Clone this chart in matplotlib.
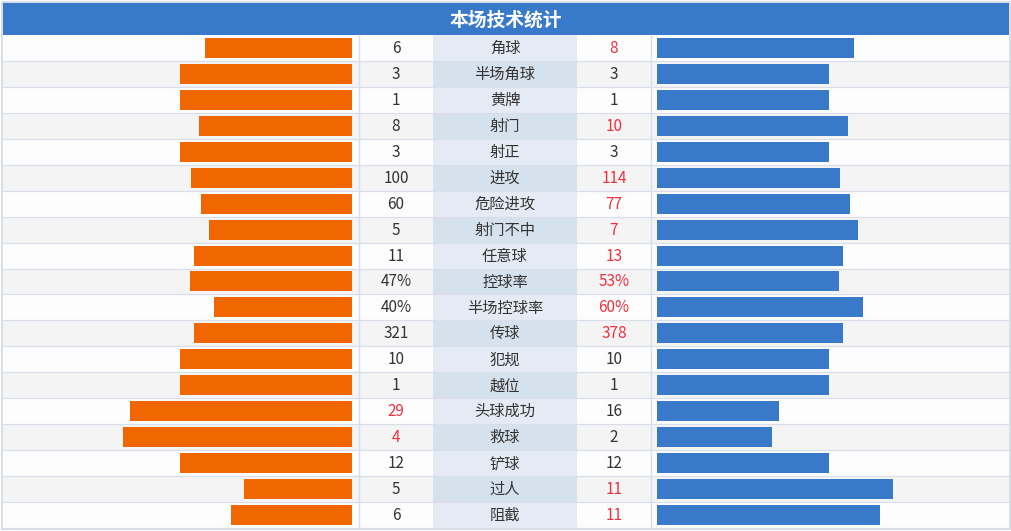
import matplotlib
matplotlib.use("Agg")
import matplotlib.pyplot as plt
from matplotlib.patches import Rectangle

plt.rcParams['font.family'] = ['Noto Sans CJK SC', 'DejaVu Sans']

# 数据
TITLE = "本场技术统计"
labels = ["角球", "半场角球", "黄牌", "射门", "射正", "进攻", "危险进攻", "射门不中",
          "任意球", "控球率", "半场控球率", "传球", "犯规", "越位", "头球成功", "救球",
          "铲球", "过人", "阻截"]
home = [6, 3, 1, 8, 3, 100, 60, 5, 11, 47, 40, 321, 10, 1, 29, 4, 12, 5, 6]
away = [8, 3, 1, 10, 3, 114, 77, 7, 13, 53, 60, 378, 10, 1, 16, 2, 12, 11, 11]
pct_rows = ["控球率", "半场控球率"]

# 颜色
ORANGE = "#f06600"
BLUE = "#3879c9"
RED = "#f0313d"
TEXT = "#333333"
GRID = "#d9dee8"

W, H = 1012, 531
fig = plt.figure(figsize=(W / 100, H / 100), dpi=100)
ax = fig.add_axes([0, 0, 1, 1])
ax.set_xlim(0, W)
ax.set_ylim(H, 0)
ax.axis("off")

left_edge, right_edge = 3, 1009
top, bottom = 35, 528
n = len(labels)
row_h = (bottom - top) / n
col_l, col_lab, col_r, col_rb = 359, 433, 577, 651
bar_l_end, bar_r_start = 352, 657
bar_total = 344
bar_h = 20

# 标题栏
ax.add_patch(Rectangle((left_edge, 3), right_edge - left_edge, top - 3, color=BLUE, lw=0))
ax.text((left_edge + right_edge) / 2, (3 + top) / 2 + 1, TITLE, color="white",
        fontsize=13.5, fontweight="bold", ha="center", va="center")

for i, (lab, a, b) in enumerate(zip(labels, home, away)):
    y0 = top + i * row_h
    yc = y0 + row_h / 2
    bg = "#fdfdfd" if i % 2 == 0 else "#f4f4f4"
    lab_bg = "#e4ebf4" if i % 2 == 0 else "#d6e1ee"
    ax.add_patch(Rectangle((left_edge, y0), right_edge - left_edge, row_h, color=bg, lw=0))
    ax.add_patch(Rectangle((col_lab, y0), col_r - col_lab, row_h, color=lab_bg, lw=0))

    # 条形按比例
    wa = bar_total * a / (a + b)
    wb = bar_total * b / (a + b)
    ax.barh(yc, -wa, left=bar_l_end, height=bar_h, color=ORANGE, lw=0)
    ax.barh(yc, wb, left=bar_r_start, height=bar_h, color=BLUE, lw=0)

    suffix = "%" if lab in pct_rows else ""
    ca = RED if a > b else TEXT
    cb = RED if b > a else TEXT
    ax.text((col_l + col_lab) / 2, yc + 0.5, f"{a}{suffix}", color=ca, fontsize=11,
            ha="center", va="center")
    ax.text((col_lab + col_r) / 2, yc + 0.5, lab, color=TEXT, fontsize=11,
            ha="center", va="center")
    ax.text((col_r + col_rb) / 2, yc + 0.5, f"{b}{suffix}", color=cb, fontsize=11,
            ha="center", va="center")

    ax.plot([left_edge, right_edge], [y0 + row_h, y0 + row_h], color=GRID, lw=0.9)

# 竖线和外框
for x in [col_l, col_rb]:
    ax.plot([x, x], [top, bottom], color=GRID, lw=1.0)
ax.add_patch(Rectangle((2, 2), right_edge - 1, bottom - 1.5, fill=False, ec="#d3d8e2", lw=1.2))

fig.savefig("out.png", dpi=100)
